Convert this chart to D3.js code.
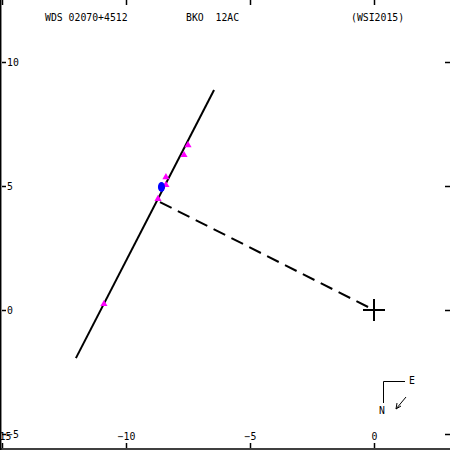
<!DOCTYPE html>
<html><head><meta charset="utf-8">
<script src="https://cdn.jsdelivr.net/npm/d3@7"></script>
<style>body{margin:0;background:#fff}svg{display:block}text{font-family:"DejaVu Sans Mono",monospace;font-size:9.8px;fill:#000;white-space:pre}</style>
</head><body><div id="c"></div>
<script>
const titleLeft = "WDS 02070+4512";
const titleMid = "BKO  12AC";
const titleRight = "(WSI2015)";
const xTicks = [-15, -10, -5, 0];
const yTicks = [10, 5, 0, -5];
const fitLine = [[-12.02, -1.94], [-6.45, 8.87]];
const residualLine = [[-8.63, 4.35], [0, 0]];
const primary = [0, 0];
const measureX = [-7.50, -7.66, -8.39, -8.39, -8.71, -10.89];
const measureY = [6.65, 6.25, 5.36, 5.04, 4.48, 0.24];
const predicted = [-8.57, 4.96];

const W = 450, H = 450;
const svg = d3.select("#c").append("svg").attr("width", W).attr("height", H);
const x = d3.scaleLinear().domain([-15, 3]).range([2, 2 + 18 * 24.8]);
const y = d3.scaleLinear().domain([-5, 10]).range([434, 62]);

// frame
svg.append("line").attr("x1", 0.7).attr("x2", 0.7).attr("y1", 0).attr("y2", H).attr("stroke", "#000").attr("stroke-width", 1.5);
svg.append("line").attr("x1", 0).attr("x2", W).attr("y1", 449).attr("y2", 449).attr("stroke", "#000").attr("stroke-width", 1.5);

// bottom axis
const gb = svg.append("g").attr("transform", "translate(0,448)")
  .call(d3.axisBottom(x).tickValues(xTicks).tickSizeInner(-5).tickSizeOuter(0).tickFormat(d3.format("d")));
gb.select(".domain").remove();
gb.selectAll("text").attr("y", -8).attr("dy", 0).style("font-family", "DejaVu Sans Mono").style("font-size", "9.8px");
// top axis ticks
const gt = svg.append("g").attr("transform", "translate(0,0)")
  .call(d3.axisTop(x).tickValues(xTicks).tickSizeInner(-5).tickSizeOuter(0).tickFormat(""));
gt.select(".domain").remove();
// left axis
const gl = svg.append("g").attr("transform", "translate(2,0)")
  .call(d3.axisLeft(y).tickValues(yTicks).tickSizeInner(-4).tickSizeOuter(0).tickFormat(d3.format("d")));
gl.select(".domain").remove();
gl.selectAll("text").attr("x", 5).attr("text-anchor", "start").attr("dy", "0.35em").style("font-family", "DejaVu Sans Mono").style("font-size", "9.8px");
// right axis ticks
const gr = svg.append("g").attr("transform", "translate(450,0)")
  .call(d3.axisRight(y).tickValues(yTicks).tickSizeInner(-5).tickSizeOuter(0).tickFormat(""));
gr.select(".domain").remove();
svg.selectAll(".tick line").attr("stroke-width", 1.5);

// titles
svg.append("text").attr("x", 45).attr("y", 21).attr("xml:space", "preserve").text(titleLeft);
svg.append("text").attr("x", 186).attr("y", 21).attr("xml:space", "preserve").text(titleMid);
svg.append("text").attr("x", 351).attr("y", 21).text(titleRight);

const line = d3.line().x(d => x(d[0])).y(d => y(d[1]));
svg.append("path").attr("d", line(fitLine)).attr("stroke", "#000").attr("stroke-width", 2).attr("fill", "none");
svg.append("path").attr("d", line(residualLine)).attr("stroke", "#000").attr("stroke-width", 2).attr("fill", "none").attr("stroke-dasharray", "13,7");

// primary cross
const px = x(primary[0]), py = y(primary[1]);
svg.append("path").attr("d", `M${px-11},${py}H${px+11}M${px},${py-11}V${py+11}`).attr("stroke", "#000").attr("stroke-width", 2);

// measures
const tri = d3.symbol().type(d3.symbolTriangle).size(22);
svg.selectAll(".m").data(measureX.map((v, i) => [v, measureY[i]])).enter().append("path")
  .attr("transform", d => `translate(${x(d[0])},${y(d[1])})`).attr("d", tri).attr("fill", "#ff00ff");

// predicted position
svg.append("ellipse").attr("cx", x(predicted[0])).attr("cy", y(predicted[1])).attr("rx", 3.5).attr("ry", 5).attr("fill", "#0000ff");

// compass
const cg = svg.append("g").attr("stroke", "#000").attr("fill", "none").attr("stroke-width", 1);
cg.append("path").attr("d", "M405,381.5H383.5V403");
cg.append("path").attr("d", "M406,397L396,409M396,409L397,403M396,409L401,406");
svg.append("text").attr("x", 409).attr("y", 384).text("E");
svg.append("text").attr("x", 379).attr("y", 414).text("N");
</script></body></html>
